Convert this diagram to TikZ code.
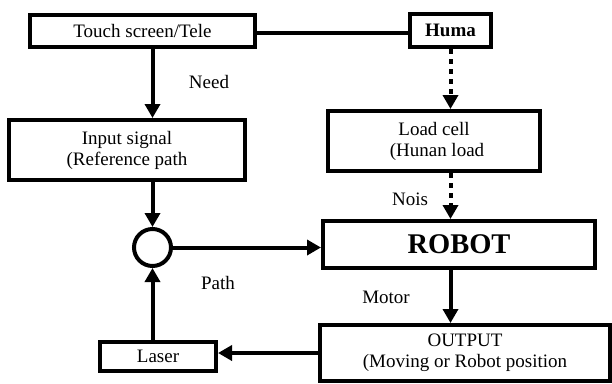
\documentclass[tikz,border=0pt]{standalone}
\usepackage{fontspec}
\setmainfont{Liberation Serif}
\usetikzlibrary{arrows.meta}
\begin{document}
\begin{tikzpicture}[x=1pt,y=-1pt,
  box/.style={draw,line width=4pt,rectangle,inner sep=0pt,align=center,font=\fontsize{19}{21}\selectfont},
  arr/.style={line width=4pt,-{Triangle[length=14pt,width=15pt]}},
  dotarr/.style={line width=4pt,dash pattern=on 4.5pt off 5.5pt,-{Triangle[length=14pt,width=15pt]}},
  lbl/.style={font=\fontsize{19}{21}\selectfont,inner sep=0pt}]
\useasboundingbox (0,0) rectangle (612,383);
\node[box,minimum width=225pt,minimum height=32pt] (touch) at (142.5,31) {Touch screen/Tele};
\node[box,minimum width=81pt,minimum height=33pt,font=\fontsize{19}{21}\selectfont\bfseries] (huma) at (450.5,30.5) {Huma};
\node[box,minimum width=236pt,minimum height=60pt] (input) at (127,150) {Input signal\\(Reference path};
\node[box,minimum width=212pt,minimum height=60pt] (load) at (434,141) {Load cell\\\hspace{6pt}(Hunan load};
\node[box,minimum width=272pt,minimum height=47pt,font=\fontsize{28.5}{30}\selectfont\bfseries] (robot) at (459,244.5) {ROBOT};
\node[draw,circle,line width=4pt,minimum size=37pt,inner sep=0pt] (sum) at (152.5,247.5) {};
\node[box,minimum width=116pt,minimum height=29pt] (laser) at (158,356.5) {Laser};
\node[box,minimum width=290pt,minimum height=56pt] (output) at (465,353) {OUTPUT\\(Moving or Robot position};
\node[lbl] (need) at (209,82) {Need};
\node[lbl] (nois) at (410,199) {Nois};
\node[lbl] (path) at (218,283) {Path};
\node[lbl] (motor) at (386,297) {Motor};
\coordinate (row33) at (0,33);
\draw[line width=4pt] (touch.east |- row33) -- (huma.west |- row33);
\draw[arr] (touch.south -| sum) -- (input.north -| sum);
\draw[arr] (input.south -| sum) -- (sum.north);
\draw[arr] (laser.north -| sum) -- (sum.south);
\draw[arr] (sum.east) -- (sum.east -| robot.west);
\draw[dotarr] (huma.south) -- (huma.south |- load.north);
\draw[dotarr] (load.south -| huma.south) -- (robot.north -| huma.south);
\draw[arr] (robot.south -| huma.south) -- (output.north -| huma.south);
\draw[arr] (output.west) -- (output.west -| laser.east);
\end{tikzpicture}
\end{document}
